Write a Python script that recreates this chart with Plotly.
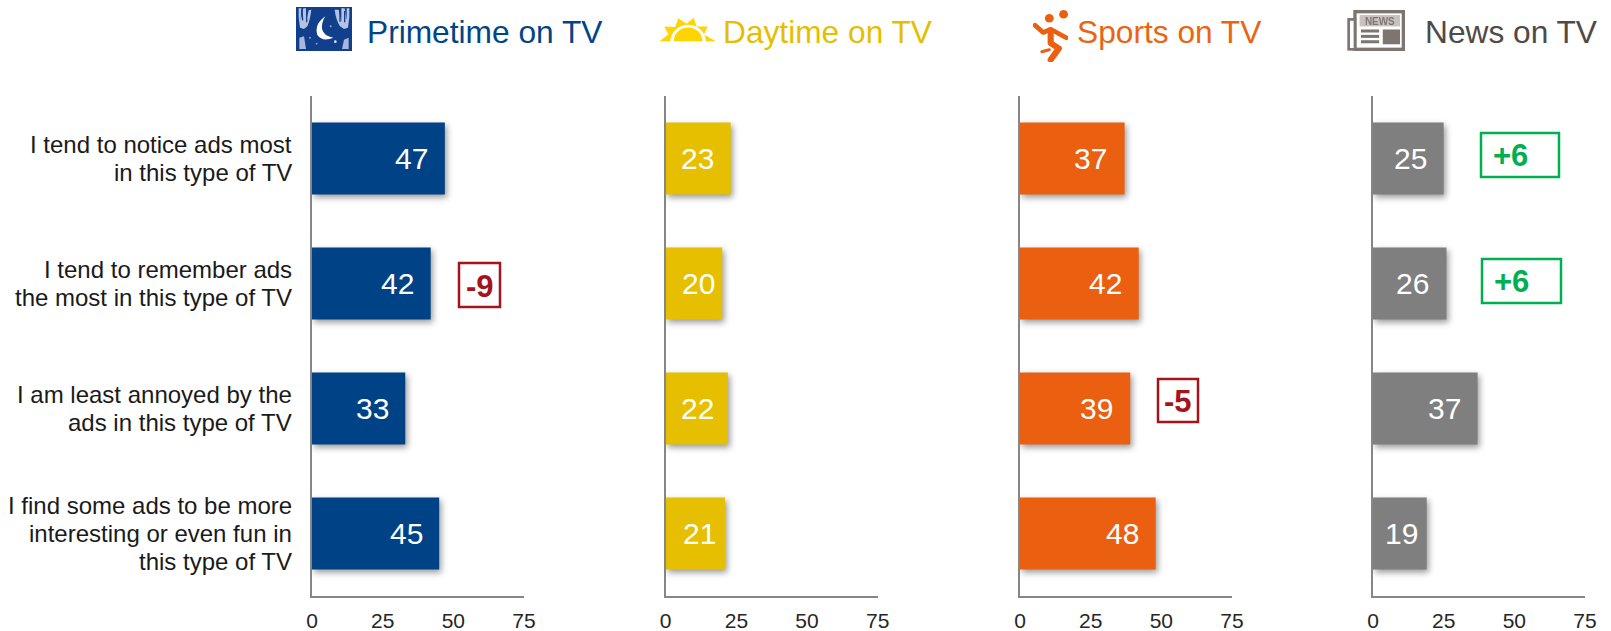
import base64
import plotly.graph_objects as go

W, H = 1611, 631

categories = [
    "I tend to notice ads most<br>in this type of TV",
    "I tend to remember ads<br>the most in this type of TV",
    "I am least annoyed by the<br>ads in this type of TV",
    "I find some ads to be more<br>interesting or even fun in<br>this type of TV",
]
primetime = [47, 42, 33, 45]
daytime = [23, 20, 22, 21]
sports = [37, 42, 39, 48]
news = [25, 26, 37, 19]
tick_values = [0, 25, 50, 75]

series_names = ["Primetime on TV", "Daytime on TV", "Sports on TV", "News on TV"]
series_values = [primetime, daytime, sports, news]
bar_colors = ["#004286", "#E6BF00", "#EB6010", "#7F7F7F"]
title_colors = ["#004586", "#E6BE00", "#EB6410", "#4F4A48"]
axis_left_px = [312, 665.7, 1020, 1373]
title_left_px = [365, 721, 1075, 1423]
# distance from bar end to its value label, in pixels
label_gaps = [
    [15, 15, 14, 14],
    [15, 5, 12, 7],
    [16, 15, 15, 15],
    [15, 15, 15, 7],
]

AXIS_W = 212
TOP, BOTTOM = 96, 596


def px(x):
    return x / W


def py(y):
    return 1 - y / H


def svg_uri(svg):
    return "data:image/svg+xml;base64," + base64.b64encode(svg.encode()).decode()


BLUR = "<defs><filter id='b' x='-10%' y='-10%' width='120%' height='120%'><feGaussianBlur stdDeviation='1.6'/></filter></defs>"

moon = f"""<svg xmlns='http://www.w3.org/2000/svg' viewBox='0 0 168 132' preserveAspectRatio='none'>{BLUR}
<rect width='168' height='132' fill='#123f8c'/>
<g filter='url(#b)'>
<path d='M8 4 L16 4 L14 40 L22 4 L30 4 L30 44 L38 10 L46 8 Q42 40 34 58 L24 66 L12 62 Q6 30 8 4Z' fill='#b4c3e2'/>
<path d='M18 10 L20 40 M32 12 L32 46' stroke='#123f8c' stroke-width='4' fill='none'/>
<path d='M160 4 L152 4 L152 40 L146 4 L136 4 L136 44 L128 8 L116 8 Q120 40 132 58 L144 66 L156 62 Q162 30 160 4Z' fill='#b4c3e2'/>
<path d='M146 12 L146 46 M132 12 L132 44' stroke='#123f8c' stroke-width='4' fill='none'/>
<path d='M10 92 L24 88 L30 126 L10 126Z M158 92 L144 98 L138 126 L158 126Z' fill='#a6b7dc'/>
<path d='M88 28 Q54 52 64 84 Q80 106 112 92 Q84 88 78 66 Q76 46 88 28Z' fill='#ffffff'/>
<circle cx='104' cy='58' r='3' fill='#8ea4d4'/><circle cx='42' cy='92' r='3' fill='#8ea4d4'/>
<circle cx='118' cy='104' r='4' fill='#dfe6f5'/><circle cx='62' cy='110' r='2.5' fill='#8ea4d4'/>
</g></svg>"""

sun = """<svg xmlns='http://www.w3.org/2000/svg' viewBox='0 0 172 73' preserveAspectRatio='none'>
<path d='M0 73 L28 52 L16 28 L48 30 L58 4 L82 20 L104 2 L112 28 L146 28 L134 52 L172 73 L140 73 A53 50 0 0 0 34 73Z' fill='#FFD400'/>
<path d='M44 73 A43 42 0 0 1 130 73Z' fill='#FFD400'/>
</svg>"""

player = """<svg xmlns='http://www.w3.org/2000/svg' viewBox='0 0 103 157' preserveAspectRatio='none'>
<circle cx='90' cy='13' r='13' fill='#EB6010'/><circle cx='48' cy='25' r='13' fill='#EB6010'/>
<g stroke='#EB6010' fill='none' stroke-linecap='round' stroke-linejoin='round'>
<path d='M6 46 L30 68 L52 58 L98 84' stroke-width='14'/>
<path d='M52 62 L52 100 L76 116 L52 150' stroke-width='18'/>
<path d='M26 126 L48 120' stroke-width='9'/>
</g></svg>"""

paper = """<svg xmlns='http://www.w3.org/2000/svg' viewBox='0 0 175 125' preserveAspectRatio='none'>
<g filter='url(#b)'>
<defs><filter id='b' x='-5%' y='-5%' width='110%' height='110%'><feGaussianBlur stdDeviation='1.5'/></filter></defs>
<rect x='24' y='5' width='146' height='112' fill='#ffffff' stroke='#7f7570' stroke-width='10'/>
<rect x='5' y='28' width='19' height='89' fill='#ffffff' stroke='#7f7570' stroke-width='8'/>
<rect x='38' y='15' width='122' height='34' fill='#c9c3c0'/>
<text x='99' y='45' font-family='Liberation Sans' font-weight='bold' font-size='30' text-anchor='middle' fill='#7f7570'>NEWS</text>
<rect x='42' y='58' width='55' height='9' fill='#7f7570'/><rect x='42' y='74' width='55' height='9' fill='#7f7570'/>
<rect x='42' y='90' width='55' height='9' fill='#7f7570'/>
<rect x='108' y='58' width='52' height='44' fill='#7f7570'/>
</g></svg>"""

icons = [
    (moon, 296, 7, 56, 44),
    (sun, 659, 17, 57.5, 24.5),
    (player, 1033, 10, 35, 52),
    (paper, 1347, 10, 58, 42),
]

badges = [
    ("-9", "#A5141C", 459, 263, 500, 307),
    ("-5", "#A5141C", 1158, 379, 1198, 422),
    ("+6", "#00B050", 1481, 133, 1559, 177),
    ("+6", "#00B050", 1482, 259, 1561, 303),
]

fig = go.Figure()
annotations = []
for i, name in enumerate(series_names):
    n = "" if i == 0 else str(i + 1)
    left = axis_left_px[i]
    fig.add_trace(go.Bar(
        x=series_values[i], y=list(range(4)), orientation="h",
        marker=dict(color=bar_colors[i], line=dict(width=0)),
        xaxis=f"x{n}", yaxis=f"y{n}", name=name, showlegend=False, hoverinfo="x",
    ))
    axis_common = dict(showline=True, linecolor="#868686", linewidth=2, showgrid=False, zeroline=False)
    fig.update_layout({
        f"xaxis{n}": dict(
            domain=[px(left), px(left + AXIS_W)], range=[0, 75], tickvals=tick_values,
            anchor=f"y{n}", ticks="outside", ticklen=5, tickcolor="rgba(0,0,0,0)",
            tickfont=dict(size=21, color="#262626"), **axis_common),
        f"yaxis{n}": dict(
            domain=[py(BOTTOM), py(TOP)], range=[3.5, -0.5], anchor=f"x{n}",
            showticklabels=False, ticks="", **axis_common),
    })
    for row, v in enumerate(series_values[i]):
        annotations.append(dict(
            xref=f"x{n}", yref=f"y{n}", x=v, y=row, text=str(v), showarrow=False,
            xanchor="right", yanchor="middle", xshift=-label_gaps[i][row], yshift=0,
            font=dict(size=30, color="#FFFFFF")))
    annotations.append(dict(
        xref="paper", yref="paper", x=px(title_left_px[i]), y=py(32), text=name, showarrow=False,
        xanchor="left", yanchor="middle", font=dict(size=31.7, color=title_colors[i])))

for row, cat in enumerate(categories):
    lines = cat.split("<br>")
    for j, line in enumerate(lines):
        annotations.append(dict(
            xref="paper", yref="y", x=px(294), y=row, text=line, showarrow=False,
            xanchor="right", yanchor="middle", yshift=-(j - (len(lines) - 1) / 2) * 27.7,
            font=dict(size=24, color="#1A1A1A")))

shapes = []
for text, color, x0, y0, x1, y1 in badges:
    shapes.append(dict(type="rect", xref="paper", yref="paper", x0=px(x0), x1=px(x1), y0=py(y0), y1=py(y1),
                       line=dict(color=color, width=2.5), fillcolor="rgba(0,0,0,0)"))
    wide = text.startswith("+")
    annotations.append(dict(
        xref="paper", yref="paper", x=px(x0 + 10) if wide else px((x0 + x1) / 2), y=py((y0 + y1) / 2 + 1),
        text=f"<b>{text}</b>", showarrow=False, xanchor="left" if wide else "center", yanchor="middle",
        font=dict(size=31, color=color)))

images = [dict(source=svg_uri(s), xref="paper", yref="paper", x=px(x), y=py(y), sizex=w / W, sizey=h / H,
               xanchor="left", yanchor="top", sizing="stretch", layer="above")
          for s, x, y, w, h in icons]

fig.update_layout(
    width=W, height=H, margin=dict(l=0, r=0, t=0, b=0, autoexpand=False), autosize=False,
    paper_bgcolor="#FFFFFF", plot_bgcolor="#FFFFFF", bargap=0.424,
    font=dict(family="Liberation Sans, Arial, sans-serif"),
    annotations=annotations, shapes=shapes, images=images,
)

css = ("body{margin:0!important;overflow:hidden}"
       ".barlayer .point path{filter:drop-shadow(2px 3px 3px rgba(0,0,0,.4));}")
post = ("var s=document.createElement('style');s.textContent=" + repr(css) + ";document.head.appendChild(s);")
fig.write_html("out.html", post_script=post, config={"displayModeBar": False})
